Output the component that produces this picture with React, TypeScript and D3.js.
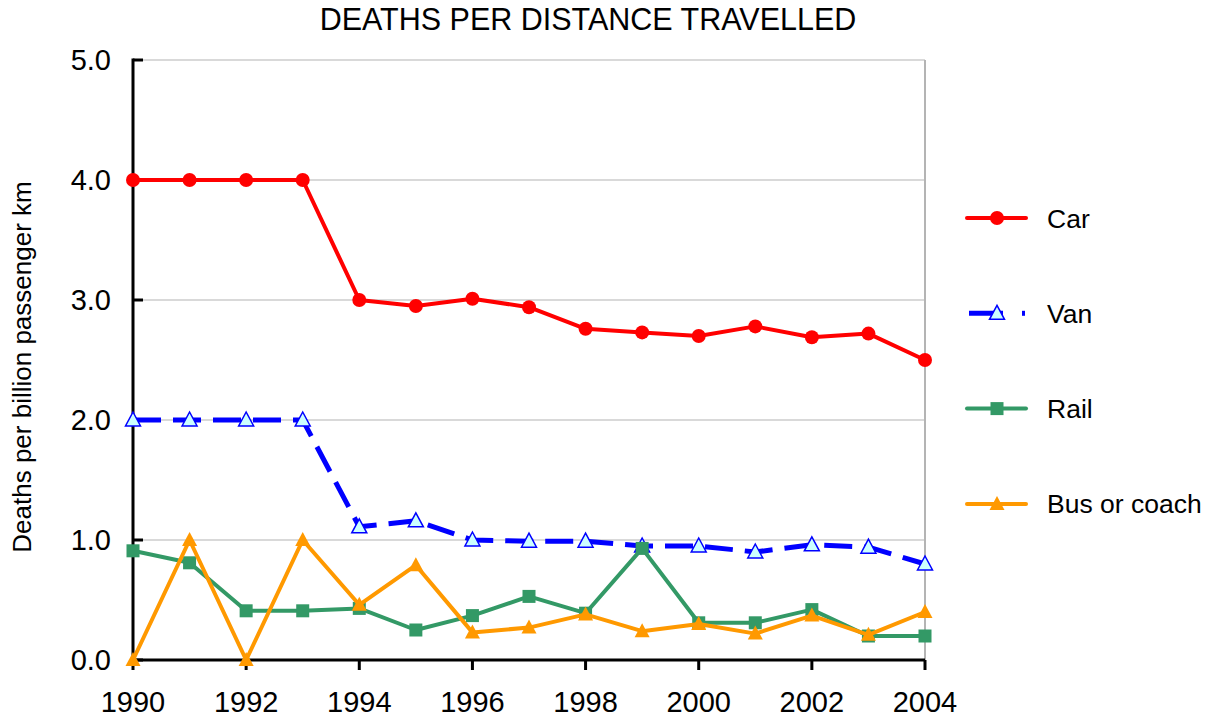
import React from 'react';
import * as d3 from 'd3';

const years = [1990, 1991, 1992, 1993, 1994, 1995, 1996, 1997, 1998, 1999, 2000, 2001, 2002, 2003, 2004];
const car = [4.0, 4.0, 4.0, 4.0, 3.0, 2.95, 3.01, 2.94, 2.76, 2.73, 2.70, 2.78, 2.69, 2.72, 2.50];
const van = [2.0, 2.0, 2.0, 2.0, 1.11, 1.16, 1.0, 0.99, 0.99, 0.95, 0.95, 0.90, 0.96, 0.94, 0.80];
const rail = [0.91, 0.81, 0.41, 0.41, 0.43, 0.25, 0.37, 0.53, 0.39, 0.93, 0.31, 0.31, 0.42, 0.20, 0.20];
const bus = [0.0, 1.0, 0.0, 1.0, 0.46, 0.79, 0.23, 0.27, 0.38, 0.24, 0.30, 0.22, 0.37, 0.21, 0.40];
const yTicks = [0, 1, 2, 3, 4, 5];
const xTicks = [1990, 1992, 1994, 1996, 1998, 2000, 2002, 2004];

const series = [
  { name: 'Car', values: car, color: '#ff0000', marker: 'circle', dash: null, width: 4 },
  { name: 'Van', values: van, color: '#0000ff', marker: 'openTri', dash: '28 12', width: 5 },
  { name: 'Rail', values: rail, color: '#339966', marker: 'square', dash: null, width: 4 },
  { name: 'Bus or coach', values: bus, color: '#ff9900', marker: 'tri', dash: null, width: 4 },
];

const font = 'Liberation Sans, Arial, sans-serif';

const Marker = ({ type, x, y, color }) => {
  if (type === 'circle') return <circle cx={x} cy={y} r={7} fill={color} />;
  if (type === 'square') return <rect x={x - 6.5} y={y - 6.5} width={13} height={13} fill={color} />;
  const tri = `M${x},${y - 8}L${x + 7.5},${y + 6}L${x - 7.5},${y + 6}Z`;
  if (type === 'openTri') return <path d={tri} fill="#ccffff" stroke={color} strokeWidth={1.5} />;
  return <path d={tri} fill={color} />;
};

export default function App() {
  const W = 1219, H = 720;
  const left = 133, right = 925, top = 60, bottom = 660;
  const x = d3.scaleLinear().domain([1990, 2004]).range([left, right]);
  const y = d3.scaleLinear().domain([0, 5]).range([bottom, top]);
  const line = d3.line<number>().x((_, i) => x(years[i])).y((d) => y(d));

  return (
    <svg width={W} height={H} style={{ position: 'absolute', left: 0, top: 0 }} fontFamily={font}>
      <rect width={W} height={H} fill="#fff" />
      <text x={588} y={30} textAnchor="middle" fontSize={30.5}>DEATHS PER DISTANCE TRAVELLED</text>
      {yTicks.map((t) => (
        <g key={t}>
          {t > 0 && <line x1={left} x2={right} y1={y(t)} y2={y(t)} stroke="#b4b4b4" strokeWidth={1.2} />}
          <line x1={left} x2={left + 10} y1={y(t)} y2={y(t)} stroke="#000" strokeWidth={3} />
          <text x={111} y={y(t) + 10} textAnchor="end" fontSize={29}>{t.toFixed(1)}</text>
        </g>
      ))}
      <line x1={right} x2={right} y1={top} y2={bottom} stroke="#b4b4b4" strokeWidth={2} />
      <line x1={left} x2={left} y1={top - 1.5} y2={bottom} stroke="#000" strokeWidth={3} />
      <line x1={left} x2={right} y1={bottom} y2={bottom} stroke="#000" strokeWidth={3} />
      {xTicks.map((t) => (
        <g key={t}>
          <line x1={x(t)} x2={x(t)} y1={bottom} y2={bottom + 10} stroke="#000" strokeWidth={3} />
          <text x={x(t)} y={712} textAnchor="middle" fontSize={29}>{t}</text>
        </g>
      ))}
      <text transform={`translate(31,${(top + bottom) / 2 + 7}) rotate(-90)`} textAnchor="middle" fontSize={26}>
        Deaths per billion passenger km
      </text>
      {series.map((s) => (
        <g key={s.name}>
          <path d={line(s.values) || ''} fill="none" stroke={s.color} strokeWidth={s.width}
            strokeDasharray={s.dash || undefined} strokeLinejoin="round" />
          {s.values.map((v, i) => (
            <Marker key={i} type={s.marker} x={x(years[i])} y={y(v)} color={s.color} />
          ))}
        </g>
      ))}
      {series.map((s, i) => {
        const ly = 218 + i * 95.3;
        return (
          <g key={s.name}>
            {s.dash ? (
              <>
                <line x1={969} x2={1003} y1={ly} y2={ly} stroke={s.color} strokeWidth={s.width} />
                <line x1={1022} x2={1025} y1={ly} y2={ly} stroke={s.color} strokeWidth={s.width} />
              </>
            ) : (
              <line x1={967} x2={1026} y1={ly} y2={ly} stroke={s.color} strokeWidth={s.width} strokeLinecap="round" />
            )}
            <Marker type={s.marker} x={997} y={ly} color={s.color} />
            <text x={1047} y={ly + 9.5} fontSize={26.5}>{s.name}</text>
          </g>
        );
      })}
    </svg>
  );
}
